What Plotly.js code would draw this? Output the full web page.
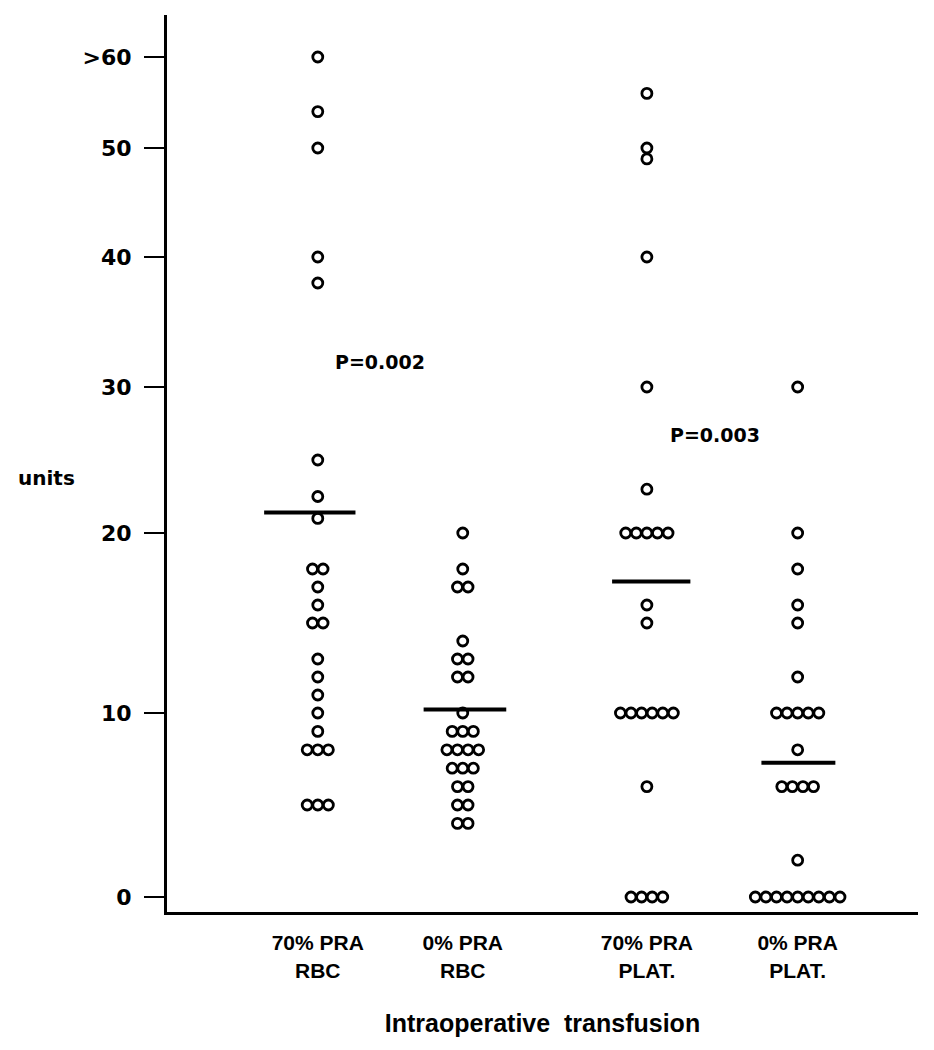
<!DOCTYPE html>
<html>
<head>
<meta charset="utf-8">
<script src="https://cdn.plot.ly/plotly-3.0.1.min.js"></script>
<style>html,body{margin:0;padding:0;background:#fff;}#chart{width:934px;height:1050px;}</style>
</head>
<body>
<div id="chart"></div>
<script>
// ---- data ----
const categories = ['70% PRA<br>RBC', '0% PRA<br>RBC', '70% PRA<br>PLAT.', '0% PRA<br>PLAT.'];
const rbc70  = [60, 54, 50, 40, 38, 25, 22.5, 21, 18, 18, 17, 16, 15, 15, 13, 12, 11, 10, 9, 8, 8, 8, 5, 5, 5];
const rbc0   = [20, 18, 17, 17, 14, 13, 13, 12, 12, 10, 9, 9, 9, 8, 8, 8, 8, 7, 7, 7, 6, 6, 5, 5, 4, 4];
const plat70 = [56, 50, 49, 40, 30, 23, 20, 20, 20, 20, 20, 16, 15, 10, 10, 10, 10, 10, 10, 6, 0, 0, 0, 0];
const plat0  = [30, 20, 18, 16, 15, 12, 10, 10, 10, 10, 10, 8, 6, 6, 6, 6, 2, 0, 0, 0, 0, 0, 0, 0, 0, 0];
const means  = [21.4, 10.2, 17.3, 7.3];
const yTickValues = [0, 10, 20, 30, 40, 50, 60];
const yTickLabels = ['0', '10', '20', '30', '40', '50', '>60'];
const pLabels = ['P=0.002', 'P=0.003'];
const pLabelValues = [31.9, 26.7];

// ---- axis scale (non-linear, as drawn in the figure) ----
const scaleKnots = [0, 10, 20, 30, 40, 50, 60];
const scalePos   = [0, 184, 364, 510, 640, 749, 840];
function T(v) {
  for (let i = 0; i < scaleKnots.length - 1; i++) {
    if (v <= scaleKnots[i + 1] || i === scaleKnots.length - 2) {
      const f = (v - scaleKnots[i]) / (scaleKnots[i + 1] - scaleKnots[i]);
      return scalePos[i] + f * (scalePos[i + 1] - scalePos[i]);
    }
  }
}

// ---- layout constants ----
const colX = [1, 2, 3.27, 4.31];
const dotStep = 0.073;
const meanLeft = [0.37, 0.27, 0.24, 0.25];
const meanRight = [0.26, 0.30, 0.30, 0.26];
const pLabelX = [1.43, 3.74];

const groups = [rbc70, rbc0, plat70, plat0];
const traces = [];
groups.forEach((vals, gi) => {
  const counts = {};
  vals.forEach(v => { counts[v] = (counts[v] || 0) + 1; });
  const seen = {};
  const xs = [], ys = [];
  vals.forEach(v => {
    const n = counts[v];
    const k = seen[v] || 0;
    seen[v] = k + 1;
    xs.push(colX[gi] + (k - (n - 1) / 2) * dotStep);
    ys.push(T(v));
  });
  traces.push({
    type: 'scatter', mode: 'markers', x: xs, y: ys, hoverinfo: 'skip',
    marker: {symbol: 'circle-open', size: 10, color: '#000', line: {width: 2.8, color: '#000'}}
  });
});
means.forEach((m, gi) => {
  traces.push({
    type: 'scatter', mode: 'lines', hoverinfo: 'skip',
    x: [colX[gi] - meanLeft[gi], colX[gi] + meanRight[gi]], y: [T(m), T(m)],
    line: {color: '#000', width: 4}
  });
});

const boldL = {family: 'Liberation Sans, Arial, sans-serif', weight: 'bold', color: '#000'};
const boldD = {family: 'DejaVu Sans, sans-serif', weight: 'bold', color: '#000'};

const annotations = pLabels.map((t, i) => ({
  x: pLabelX[i], y: T(pLabelValues[i]), xref: 'x', yref: 'y', text: t, showarrow: false,
  xanchor: 'center', yanchor: 'middle',
  font: Object.assign({}, boldD, {size: 19})
}));
annotations.push({
  x: -0.16, y: 0.484, xref: 'paper', yref: 'paper', text: 'units', showarrow: false,
  xanchor: 'center', yanchor: 'middle',
  font: Object.assign({}, boldD, {size: 20})
});

const layout = {
  width: 934, height: 1050,
  margin: {l: 167, r: 16, t: 15, b: 138},
  paper_bgcolor: '#fff', plot_bgcolor: '#fff',
  showlegend: false,
  xaxis: {
    range: [-0.04, 5.14], showgrid: false, zeroline: false,
    showline: true, linecolor: '#000', linewidth: 3,
    ticks: '', tickvals: colX, ticktext: categories,
    tickfont: Object.assign({}, boldL, {size: 21}),
    ticklabelstandoff: 10,
    title: {text: 'Intraoperative  transfusion', font: Object.assign({}, boldL, {size: 25}), standoff: 34}
  },
  yaxis: {
    range: [-15, 882], showgrid: false, zeroline: false,
    showline: true, linecolor: '#000', linewidth: 3,
    ticks: 'outside', ticklen: 20, tickwidth: 2.5, tickcolor: '#000',
    tickvals: yTickValues.map(T), ticktext: yTickLabels,
    tickfont: Object.assign({}, boldD, {size: 22}),
    ticklabelstandoff: 8
  },
  annotations: annotations
};

Plotly.newPlot('chart', traces, layout, {displayModeBar: false, staticPlot: true});
</script>
</body>
</html>
